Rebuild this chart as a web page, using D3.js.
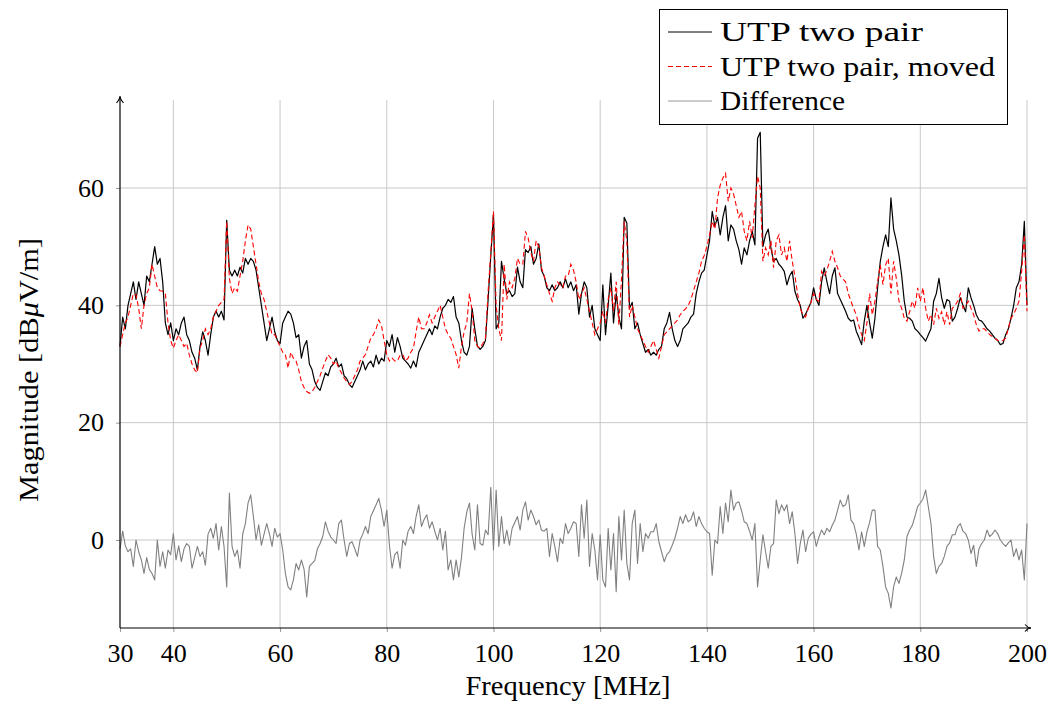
<!DOCTYPE html>
<html>
<head>
<meta charset="utf-8">
<script src="https://cdn.jsdelivr.net/npm/d3@7"></script>
<style>
  html, body { margin: 0; padding: 0; background: #fff; }
  svg { display: block; }
  text { font-family: "Liberation Serif", "DejaVu Serif", serif; fill: #000; }
</style>
</head>
<body>
<svg id="chart" width="1054" height="709"></svg>
<script>
// ---- data (frequency in MHz, 0.5 MHz spacing from 30 to 200) ----
const freqStart = 30, freqEnd = 200, freqStep = 0.5;
const xTicks = [30, 40, 60, 80, 100, 120, 140, 160, 180, 200];
const xGrid = [40, 60, 80, 100, 120, 140, 160, 180, 200];
const yTicks = [0, 20, 40, 60];
const seriesNames = ["UTP two pair", "UTP two pair, moved", "Difference"];

const utpTwoPair = [
  33, 38, 36, 40, 42, 44, 41, 44, 42, 40,
  45, 44, 47, 50, 47, 48, 44, 37, 35, 37,
  34, 36, 35, 37, 38, 35, 34, 32, 31, 29,
  33, 35.5, 34, 31.5, 35, 38, 39, 38, 39, 37.5,
  54.5, 46, 45, 46, 45, 46.5, 45.5, 48, 47, 48,
  47.5, 46, 43, 40, 37, 34, 36, 38, 35.5, 34,
  33.5, 37, 38, 39, 38.5, 37, 34.5, 35, 31, 33,
  34, 30, 29, 27, 26, 25.5, 27, 28.5, 28, 29.5,
  30, 31, 29.5, 30, 28, 27.5, 26.5, 26, 27, 28,
  29, 30.5, 29, 30, 30.5, 29.5, 31.5, 30, 31, 30.5,
  34, 33, 35, 32, 34.5, 33, 31, 30.5, 30, 29.3,
  30.5, 29.5, 32, 33, 34, 35, 36, 35, 36.5, 36,
  38, 39.5, 40, 41, 40.5, 41.5, 38, 37, 34, 32,
  31.5, 33, 39.5, 36, 33, 32.5, 33, 34, 41, 48.5,
  55.5, 36, 37, 47.5, 44.5, 42, 42.5, 41.5, 42, 46.5,
  44, 43, 49.5, 49, 50, 47, 48, 50.5, 46, 45,
  43, 42.5, 43.5, 42.5, 43, 44, 43, 44.5, 43, 44,
  42.5, 43.5, 38.5, 42, 44, 43, 38, 40, 36, 35,
  34, 43.5, 35, 40, 45.5, 37, 42, 38, 36, 55,
  54, 39.5, 40.5, 36, 37, 35, 33.5, 32, 32.5, 31.5,
  32, 31.5, 32.5, 33, 36, 37, 38.8, 36, 34, 33,
  34, 36, 36.5, 37, 38, 38.5, 42, 44, 45.5, 46,
  48.5, 51, 56, 53.5, 55, 52, 55, 57, 51, 53.7,
  53, 51, 49.5, 47, 49.8, 48.6, 51, 52.6, 50.3, 68.5,
  69.5, 50, 52, 53, 49.8, 47.5, 48, 47, 46.5, 45.8,
  43.5, 45, 45.8, 42.4, 41, 40, 37.8, 38.5, 39.5, 40.5,
  43, 41, 40, 44, 46.4, 44, 42, 45, 46.4, 42,
  41, 40, 39, 37.8, 37.3, 37.5, 35.6, 34.5, 33.3, 37.3,
  40, 37, 34.4, 37.8, 43, 47.5, 50, 52, 50, 58.3,
  53, 51, 48.6, 45.2, 40.7, 38, 37.8, 37.3, 36, 35.6,
  35, 34.5, 33.9, 35, 36, 40.7, 42, 44.6, 41.3, 39.5,
  41, 40.7, 37.3, 38, 39.5, 41.3, 40, 38.9, 43, 41.3,
  40, 38.4, 37.5, 37.3, 36.7, 36, 35.6, 35, 34.4, 34,
  33.3, 33.5, 35, 36, 37.8, 40, 43, 44, 47, 54.3,
  40
];

const utpTwoPairMoved = [
  33, 35, 37, 38, 40, 42, 41.8, 39.5, 36, 40,
  42, 43, 47, 45, 43, 42.5, 42.4, 42, 37, 34,
  32.7, 34, 35, 34, 33, 33.5, 31.5, 30, 29, 28.5,
  32.7, 34, 36, 35, 36, 38, 39, 40, 40.5, 41,
  54.3, 44.6, 42, 43, 42.4, 45, 47.5, 51, 53.7, 53,
  50, 47, 44, 42, 41, 39, 37, 35, 35, 34,
  33, 32, 31.6, 29.3, 32, 31, 30.5, 29, 27, 26,
  25.3, 25, 25.3, 26, 27, 28, 29.3, 30.5, 31.6, 31,
  30, 30.5, 29.3, 28.5, 27.6, 27, 26.5, 27, 28, 29,
  30.5, 31, 31.6, 33, 34.4, 35, 36, 37.5, 36.6, 34,
  31.6, 30.5, 31, 30.5, 30.5, 31.5, 31.6, 30.5, 31, 32,
  32.7, 35.5, 38, 36, 36, 37, 38.4, 37, 38, 39,
  40, 38, 36, 35, 34.4, 33, 31.6, 29.3, 33, 35.5,
  37, 42, 39, 34, 33, 32.7, 33.5, 34.4, 42.4, 49,
  56, 40, 36, 34, 47, 41, 44, 43, 44.6, 48,
  47, 47, 52.6, 51.5, 49, 47.5, 51, 50, 46.4, 45,
  43.5, 42, 40.7, 43, 44, 43.5, 43, 45, 45, 47,
  46, 44, 41, 42, 43, 41, 39, 37, 35, 36,
  37, 39, 37, 41, 43, 39, 44, 36.7, 44.6, 54.3,
  51, 38, 40, 38, 36, 35, 34, 33, 32, 33,
  34, 32.5, 31, 33, 35, 35.5, 36, 36.5, 37, 37.5,
  38.4, 39, 39.4, 40, 41, 42.5, 44, 45.5, 47.5, 48.5,
  50, 52, 54.3, 53, 58.3, 60.5, 61.7, 62.5, 57.7, 60,
  59, 57, 55, 56, 52.6, 51, 54.3, 51.5, 57, 62,
  60, 47.5, 49.8, 48.6, 51, 46.4, 51, 52, 48.6, 49.8,
  47.5, 51, 47.5, 45, 42, 39.5, 38.4, 38, 39.5, 40.5,
  42, 41, 40.7, 45.8, 45, 46, 47.5, 49.2, 47.5, 46.4,
  45, 44.5, 44, 42, 40.7, 39.5, 38.4, 36.5, 35, 34,
  37, 42, 38.4, 40.7, 44, 46.9, 43.5, 46.9, 48, 42,
  47.5, 44.6, 40.7, 39.5, 37.8, 37.3, 38.9, 40.7, 39.5, 43,
  40.7, 43, 39.5, 37.3, 38.4, 36.7, 39.5, 37.8, 38.9, 36.7,
  38.9, 36.7, 39.5, 40, 40.7, 42, 39.5, 40, 40.7, 39.5,
  38.4, 36.7, 35.6, 36, 36, 35.5, 35, 34.7, 34.4, 34,
  33.9, 34, 34.4, 36, 37.8, 38.5, 39.5, 40.7, 45.8, 52,
  39
];

const difference = [
  -1.5, 1.5, -1, -2, -1.5, -4.5, 0, -2, -3.4, -5.7,
  -3, -5, -5.7, -6.8, 0, -4.5, -2, -4.8, -1.7, -2.5,
  1.1, -3.4, -1, -3.7, -1.5, -0.6, -1.1, -4.8, -3, -1.1,
  -2.8, -2, -4.3, 1, 2, 0.3, 2.8, -1.7, 2.3, -1.1,
  -8, 8, -1.1, -2.8, -1.7, -4.8, 1, 2.8, 6.3, 7.7,
  4, 0, 2.6, -0.9, 1, 2.8, 1.1, -1.1, 2, 0.5,
  1.1, -1.7, -5.7, -8, -8.5, -6.8, -4, -5.1, -3.4, -5,
  -9.7, -4.5, -4, -3.5, -1.5, -0.6, 0.6, 3.1, 1.5, 0.5,
  0, -0.6, 2.8, 3.4, 0, -2.8, -0.6, -0.3, -1.5, -2.8,
  0, 1, 2.3, 1.1, 4, 5, 6, 7.1, 5.1, 2.3,
  5.1, -0.9, -4.8, -2.5, -2, -4.8, 0, -0.9, 1.5, 2.3,
  1.1, 4, 6, 2.3, 3.5, 4.3, 2, 3.1, 1.5, 0,
  2, -1.7, 1.5, -5.1, -3.4, -6.8, -3.4, -6.3, -3, 2,
  4.8, 6.3, 1, -1.7, 6, -0.6, -0.9, 1.7, 0.9, 9,
  -1.7, 8.5, -1.1, 4, -0.6, 1.7, -0.9, 2, 3, 4,
  1.7, 5.1, 6.5, 3.4, 5.1, 4, 2.6, 3.4, 1.7, 1.5,
  2, -2.8, 1.1, -1.1, -3.7, 0.3, -0.6, 2.8, 1.1, 2,
  3.1, 2.8, -2.8, 6, 0.3, 6.8, -4.5, 1.1, -1.7, -6.8,
  0.9, -6.8, -8, 2, -5.1, 1.1, -8.8, 4, -3.4, 5.1,
  -4, -6.8, 2.8, 5.1, -4, 2.8, -2, 1.1, 0.3, 1.4,
  1.4, 2.8, -0.3, -2, -3.7, -2.5, -2, -0.9, 0.3, 2,
  4, 2.8, 4.3, 3.1, 3.5, 4.8, 2.3, 4, 2.8, 2,
  1.4, 1.1, -6, 0, -0.6, 5.7, 1.1, 6.3, 3.1, 8.5,
  5.1, 6.3, 6.5, 5, 3.1, 2.8, 1.5, 0, 2.8, -8,
  -3.4, 0.9, -2, -4.8, -1.1, -0.6, 6.8, 4.5, 6, 5,
  6, 2.8, 4.8, 1.1, -4, -0.6, 1.7, -2, 0.3, 1,
  1.4, -1.1, 0.5, 1.7, 0.9, 2, 1.4, 2.5, 3.4, 5.1,
  6.8, 5.7, 6, 7.7, 3.4, 2.8, 1, -1.7, 1.4, -1.1,
  1.4, 3, 5.1, 5.1, -1.1, -1.7, -4.5, -8, -9.1, -11.6,
  -8, -6.3, -7.4, -5.7, -3.4, 0.6, 1.7, 2.5, 4, 5.7,
  6.3, 7, 8.5, 5.7, 2.8, -2.8, -5.7, -4.5, -4, -2.8,
  -1.1, -0.5, 0.9, 0.9, 2.3, 2.8, 1.5, 1.1, 0, -2.3,
  -0.9, -4.5, -1.5, -0.6, 0, 1.7, 0.6, 1, 1.7, 1.1,
  0, -0.6, -1.1, -0.5, 0, -2.8, -1.5, -3.4, -1.7, -6.8,
  2.8
];

const freqs = d3.range(0, utpTwoPair.length).map(i => freqStart + i * freqStep);

// ---- layout ----
const svg = d3.select("#chart");
const x = d3.scaleLinear().domain([freqStart, freqEnd]).range([120, 1027]);
const y = d3.scaleLinear().domain([-15, 75]).range([628, 100]);

// grid
const grid = svg.append("g").attr("stroke", "#c8c8c8").attr("stroke-width", 1);
xGrid.forEach(v => grid.append("line")
  .attr("x1", x(v)).attr("x2", x(v)).attr("y1", y(-15)).attr("y2", y(75)));
yTicks.forEach(v => grid.append("line")
  .attr("x1", x(30)).attr("x2", x(200)).attr("y1", y(v)).attr("y2", y(v)));

// lines
const line = d3.line().x((d, i) => x(freqs[i])).y(d => y(d));
svg.append("path").datum(difference)
  .attr("fill", "none").attr("stroke", "#808080").attr("stroke-width", 1.1)
  .attr("stroke-linejoin", "round").attr("d", line);
svg.append("path").datum(utpTwoPair)
  .attr("fill", "none").attr("stroke", "#000").attr("stroke-width", 1.2)
  .attr("stroke-linejoin", "round").attr("d", line);
svg.append("path").datum(utpTwoPairMoved)
  .attr("fill", "none").attr("stroke", "#ff0000").attr("stroke-width", 1.1)
  .attr("stroke-dasharray", "5,3").attr("d", line);

// axes
const xAxis = d3.axisBottom(x).tickValues(xTicks).tickSize(4).tickFormat(d3.format("d"));
const yAxis = d3.axisLeft(y).tickValues(yTicks).tickSize(4).tickPadding(12).tickFormat(d3.format("d"));
const gx = svg.append("g").attr("transform", `translate(0,${y(-15)})`).call(xAxis);
const gy = svg.append("g").attr("transform", `translate(${x(30)},0)`).call(yAxis);
[gx, gy].forEach(g => {
  g.select(".domain").remove();
  g.selectAll(".tick line").attr("stroke", "#999");
  g.selectAll("text").attr("font-size", 26).attr("font-family", "Liberation Serif, serif").attr("fill", "#000");
});
gx.selectAll("text").attr("y", 34).attr("dy", 0);

// axis lines with arrows
svg.append("line").attr("x1", x(30)).attr("x2", x(30)).attr("y1", y(-15)).attr("y2", 97)
  .attr("stroke", "#000").attr("stroke-width", 1.2);
svg.append("path").attr("d", `M${x(30)-3.5},${103} Q${x(30)},${99} ${x(30)},${96} Q${x(30)},${99} ${x(30)+3.5},${103}`)
  .attr("fill", "none").attr("stroke", "#000").attr("stroke-width", 1.1);
svg.append("line").attr("x1", x(30)).attr("x2", 1031).attr("y1", y(-15)).attr("y2", y(-15))
  .attr("stroke", "#000").attr("stroke-width", 1.2);
svg.append("path").attr("d", `M${1025},${y(-15)-3.5} Q${1028},${y(-15)} ${1031},${y(-15)} Q${1028},${y(-15)} ${1025},${y(-15)+3.5}`)
  .attr("fill", "none").attr("stroke", "#000").attr("stroke-width", 1.1);

// axis titles
svg.append("text").attr("x", 568).attr("y", 695).attr("text-anchor", "middle")
  .attr("font-size", 27).attr("textLength", 205).attr("lengthAdjust", "spacingAndGlyphs")
  .text("Frequency [MHz]");
const yl = svg.append("text").attr("transform", "translate(38,370) rotate(-90)")
  .attr("text-anchor", "middle").attr("font-size", 27)
  .attr("textLength", 264).attr("lengthAdjust", "spacingAndGlyphs");
yl.append("tspan").text("Magnitude [dB");
yl.append("tspan").attr("font-style", "italic").text("μ");
yl.append("tspan").text("V/m]");

// legend
const lg = svg.append("g");
lg.append("rect").attr("x", 659.5).attr("y", 9.5).attr("width", 348).attr("height", 115)
  .attr("fill", "#fff").attr("stroke", "#000").attr("stroke-width", 1);
const legendStyles = [
  { stroke: "#000", dash: null, len: 203 },
  { stroke: "#ff0000", dash: "5,3", len: 275 },
  { stroke: "#999", dash: null, len: 125 }
];
seriesNames.forEach((name, i) => {
  const cy = 32 + i * 34.5;
  lg.append("line").attr("x1", 668).attr("x2", 712).attr("y1", cy).attr("y2", cy)
    .attr("stroke", legendStyles[i].stroke).attr("stroke-width", 1)
    .attr("stroke-dasharray", legendStyles[i].dash);
  lg.append("text").attr("x", 720).attr("y", cy + 9).attr("font-size", 28)
    .attr("textLength", legendStyles[i].len).attr("lengthAdjust", "spacingAndGlyphs")
    .text(name);
});
</script>
</body>
</html>
